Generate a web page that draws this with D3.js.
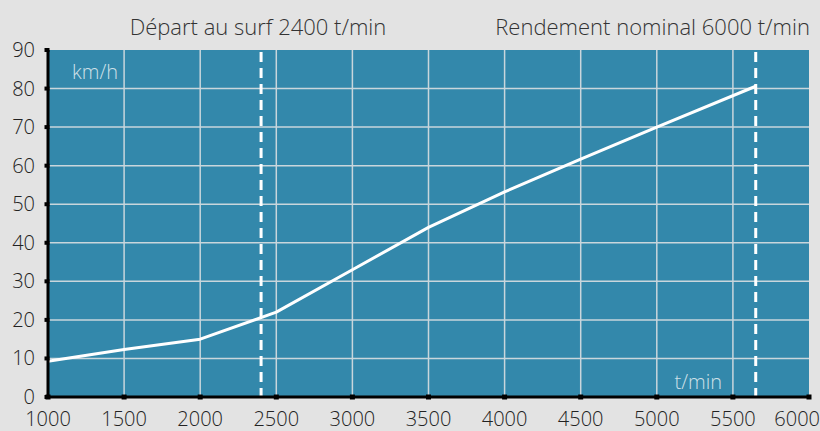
<!doctype html>
<html lang="fr">
<head>
<meta charset="utf-8">
<style>
  body { margin: 0; background: #e3e3e3; }
  text { font-family: "Open Sans", "Noto Sans", sans-serif; font-weight: 300; }
</style>
</head>
<body>
<script src="https://d3js.org/d3.v7.min.js"></script>
<div id="chart"></div>
<script>
// débit (t/min) et vitesse (km/h)
var debit   = [1000, 1500, 2000, 2500, 3000, 3500, 4000, 4500, 5000, 5650];
var vitesse = [9.3, 12.3, 15.0, 22.0, 33.0, 44.0, 53.2, 61.7, 70.0, 80.6];
var xTicks = [1000, 1500, 2000, 2500, 3000, 3500, 4000, 4500, 5000, 5500, 6000];
var yTicks = [0, 10, 20, 30, 40, 50, 60, 70, 80, 90];
var marks = [2400, 5650];
var headers = ["Départ au surf 2400 t/min", "Rendement nominal 6000 t/min"];

var width = 820, height = 431;
var mLeft = 48, mRight = 809, mTop = 50, mBottom = 397;

var svg = d3.select("#chart").append("svg")
    .attr("width", width).attr("height", height);

var x = d3.scaleLinear().domain([1000, 6000]).range([mLeft, mRight]);
var y = d3.scaleLinear().domain([0, 90]).range([mBottom, mTop]);

// fond de la zone de tracé
svg.append("rect")
   .attr("x", mLeft).attr("y", mTop)
   .attr("width", mRight - mLeft).attr("height", mBottom - mTop)
   .attr("fill", "#3388ab");

// grille
svg.selectAll(".gx").data(xTicks.slice(1, -1)).enter().append("line")
   .attr("x1", d => x(d)).attr("x2", d => x(d))
   .attr("y1", mTop).attr("y2", mBottom)
   .attr("stroke", "#c9d6dc").attr("stroke-width", 1.5);
svg.selectAll(".gy").data(yTicks.slice(1, -1)).enter().append("line")
   .attr("x1", mLeft).attr("x2", mRight)
   .attr("y1", d => y(d)).attr("y2", d => y(d))
   .attr("stroke", "#c9d6dc").attr("stroke-width", 1.5);

// lignes pointillées
svg.selectAll(".mark").data(marks).enter().append("line")
   .attr("x1", d => x(d)).attr("x2", d => x(d))
   .attr("y1", mTop + 2).attr("y2", mBottom)
   .attr("stroke", "#fff").attr("stroke-width", 3)
   .attr("stroke-dasharray", "10,6");

// courbe
var line = d3.line().x((d, i) => x(debit[i])).y(d => y(d));
svg.append("path").datum(vitesse)
   .attr("d", line)
   .attr("fill", "none").attr("stroke", "#fff").attr("stroke-width", 3)
   .attr("stroke-linejoin", "round");

// axes
svg.append("line").attr("x1", mLeft).attr("x2", mLeft).attr("y1", mTop).attr("y2", mBottom + 1.5)
   .attr("stroke", "#000").attr("stroke-width", 3);
svg.append("line").attr("x1", mLeft - 1.5).attr("x2", mRight + 1).attr("y1", mBottom).attr("y2", mBottom)
   .attr("stroke", "#000").attr("stroke-width", 3);

svg.selectAll(".tx").data(xTicks).enter().append("rect")
   .attr("x", d => x(d) - 2.5).attr("y", mBottom - 2.5)
   .attr("width", 5).attr("height", 5).attr("fill", "#000");
svg.selectAll(".ty").data(yTicks).enter().append("rect")
   .attr("x", mLeft - 3.5).attr("y", d => y(d) - 2)
   .attr("width", 5).attr("height", 4).attr("fill", "#000");

svg.selectAll(".lx").data(xTicks).enter().append("text")
   .attr("x", d => x(d)).attr("y", 426)
   .attr("text-anchor", d => d === 6000 ? "end" : "middle")
   .attr("dx", d => d === 6000 ? 11 : 0)
   .attr("font-size", 20).attr("fill", "#222")
   .text(d => d);
svg.selectAll(".ly").data(yTicks).enter().append("text")
   .attr("x", 35).attr("y", d => y(d) + 7)
   .attr("text-anchor", "end")
   .attr("font-size", 20).attr("fill", "#222")
   .text(d => d);

// unités
svg.append("text").attr("x", 118).attr("y", 79).attr("text-anchor", "end")
   .attr("font-size", 20).attr("fill", "#cfe0e8").text("km/h");
svg.append("text").attr("x", 722).attr("y", 389).attr("text-anchor", "end")
   .attr("font-size", 20).attr("fill", "#cfe0e8").text("t/min");

// titres
svg.append("text").attr("x", 258).attr("y", 35).attr("text-anchor", "middle")
   .attr("font-size", 22).attr("fill", "#333").text(headers[0]);
svg.append("text").attr("x", 810).attr("y", 35).attr("text-anchor", "end")
   .attr("font-size", 22).attr("fill", "#333").text(headers[1]);
</script>
</body>
</html>
